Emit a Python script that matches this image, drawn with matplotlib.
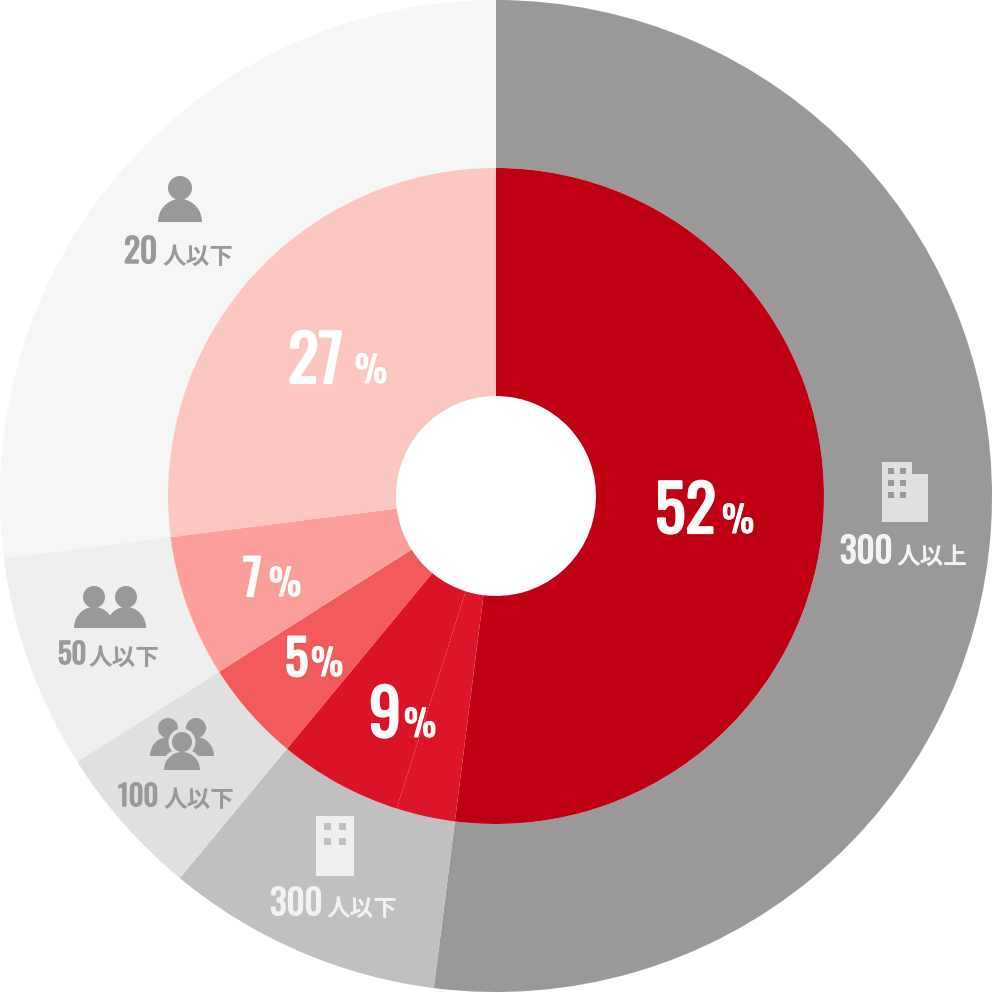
import numpy as np
import matplotlib
matplotlib.use("Agg")
import matplotlib.pyplot as plt
import matplotlib.patheffects as pe
from matplotlib.patches import Circle, Polygon, Rectangle

# ---- data ----
outer_labels = ["300人以上", "300人以下", "100人以下", "50人以下", "20人以下"]
outer_values = [52, 9, 5, 7, 27]
outer_colors = ["#999999", "#c0c0c0", "#e0e0e0", "#efefef", "#f6f6f6"]
# the 9 % slice of the reference is made of two near-identical pieces
inner_values = [52, 2.9, 6.1, 5, 7, 27]
inner_colors = ["#be0012", "#dc1529", "#db1327", "#f25a5c", "#fc9f9a", "#fcc6c1"]

W, H = 992, 993
R_OUT, R_MID, R_HOLE = 496, 328, 100

fig = plt.figure(figsize=(W / 100, H / 100), dpi=100, facecolor="white")
ax = fig.add_axes([0, 0, 1, 1])
ax.pie(outer_values, colors=outer_colors, radius=R_OUT, startangle=90, counterclock=False,
       wedgeprops=dict(width=R_OUT - R_MID, linewidth=0))
ax.pie(inner_values, colors=inner_colors, radius=R_MID, startangle=90, counterclock=False,
       wedgeprops=dict(width=R_MID - R_HOLE, linewidth=0))
ax.set_xlim(-496, 496)
ax.set_ylim(-497, 496)
ax.set_aspect("equal")
ax.axis("off")

# overlay in image pixel coordinates for icons and text
ov = fig.add_axes([0, 0, 1, 1], facecolor="none")
ov.set_xlim(0, W)
ov.set_ylim(H, 0)
ov.axis("off")

NUM = ["Oswald", "Liberation Sans"]
CJK = "Noto Sans CJK JP"


def num_text(x, y, s, size, color, stroke):
    t = ov.text(x, y, s, family=NUM, weight="bold", fontsize=size, color=color,
                ha="left", va="baseline")
    t.set_path_effects([pe.withStroke(linewidth=stroke, foreground=color)])


def label(x_num, x_cjk, base, num, cjk, color, num_size, cjk_size=17):
    num_text(x_num, base, num, num_size, color, 1.0)
    ov.text(x_cjk, base + 1, cjk, family=CJK, weight="bold", fontsize=cjk_size, color=color,
            ha="left", va="baseline")


def pct(x_num, x_pct, base, num, size):
    num_text(x_num, base, num, size, "white", 1.6)
    num_text(x_pct, base, "%", 26, "white", 0.8)


def person(cx, head_y, head_r, body_cx, body_w, bottom, top, color, ring=None):
    t = np.linspace(np.pi, 2 * np.pi, 60)
    pts = np.c_[body_cx + body_w / 2 * np.cos(t), bottom + (bottom - top) * np.sin(t)]
    if ring:
        ov.add_patch(Circle((cx, head_y), head_r + 3.5, fc=ring, ec="none"))
        p2 = np.c_[body_cx + (body_w / 2 + 3.5) * np.cos(t), bottom + (bottom - top + 3.5) * np.sin(t)]
        ov.add_patch(Polygon(p2, closed=True, fc=ring, ec="none"))
    ov.add_patch(Circle((cx, head_y), head_r, fc=color, ec="none"))
    ov.add_patch(Polygon(pts, closed=True, fc=color, ec="none"))


# percent labels
pct(655, 722, 533, "52", 46)
pct(288, 355, 383, "27", 46)
pct(243, 269, 596, "7", 35)
pct(285, 311, 676, "5", 35)
pct(369, 404, 737, "9", 46)

# outer labels
label(840, 896, 563, "300", "人以上", "#f4f4f4", 25)
label(270, 326, 915, "300", "人以下", "#f2f2f2", 25)
label(118, 163, 806, "100", "人以下", "#999999", 20.5)
label(58, 88, 664, "50", "人以下", "#999999", 20.5)
label(124, 162, 263, "20", "人以下", "#999999", 24)

# large building icon
ov.add_patch(Polygon([(882, 462), (912, 462), (912, 473.5), (928, 473.5), (928, 522), (882, 522)],
                     closed=True, fc="#e0e0e0", ec="none"))
for wx in (888, 900):
    for wy in (468, 480, 492):
        ov.add_patch(Rectangle((wx, wy), 6, 6, fc="#999999", ec="none"))

# small building icon
ov.add_patch(Rectangle((316, 816), 38, 60, fc="#efefef", ec="none"))
for wx in (323.5, 339):
    for wy in (823, 838):
        ov.add_patch(Rectangle((wx, wy), 7, 7, fc="#c0c0c0", ec="none"))

GREY = "#999999"
person(180, 188, 12, 180, 44, 222, 199, GREY)
person(94, 597, 11, 94, 40, 628, 607, GREY)
person(126, 597, 11, 126, 40, 628, 607, GREY)
person(168, 728, 10, 168, 36, 756, 737, GREY)
person(196, 728, 10, 196, 36, 756, 737, GREY)
person(182, 742, 10, 182, 36, 770, 752, GREY, ring="#e0e0e0")

fig.savefig("out.png", dpi=100, facecolor="white")
